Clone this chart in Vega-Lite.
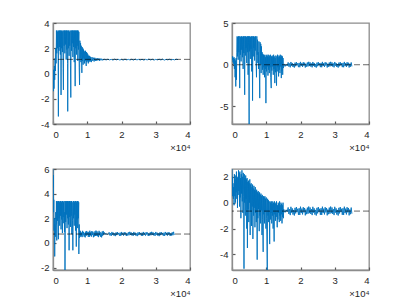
{
"$schema": "https://vega.github.io/schema/vega-lite/v6.json",
"autosize": {"type": "none"},
"padding": {"left": 53, "top": 23, "right": 356, "bottom": 284},
"background": "white",
"bounds": "flush",
"columns": 2,
"spacing": {"row": 45, "column": 42},
"config": {
  "view": {"stroke": "#8c8c8c", "strokeWidth": 1.3},
  "axis": {"zindex": 1, "grid": false, "domain": true, "domainColor": "#8c8c8c", "domainWidth": 1.3, "ticks": true, "tickSize": -3, "tickColor": "#595959", "tickWidth": 1.2, "labelFont": "Liberation Sans", "labelFontSize": 9.5, "labelColor": "#262626", "labelPadding": 7, "titleFont": "Liberation Sans", "titleFontSize": 9.5, "titleFontWeight": "normal", "titleColor": "#262626"},
  "axisX": {"labelPadding": 8, "titlePadding": 4},
  "line": {"color": "#0072BD", "strokeWidth": 0.9},
  "rule": {"color": "#000000", "strokeWidth": 0.6, "strokeDash": [6, 3]}
},
"datasets": {
"a": [
{"x":0,"y":-0.2},{"x":100,"y":-1.4},{"x":200,"y":0.3},{"x":300,"y":-1.2},{"x":400,"y":0.6},{"x":500,"y":-0.5},{"x":600,"y":1.2},{"x":700,"y":0.2},{"x":800,"y":2.0},{"x":900,"y":0.8},{"x":1000,"y":3.4},{"x":1100,"y":1.6},{"x":1200,"y":3.4},{"x":1300,"y":2.0},{"x":1400,"y":3.3},{"x":1500,"y":1.2},{"x":1570,"y":-3.4},{"x":1650,"y":3.4},{"x":1750,"y":1.8},{"x":1850,"y":3.4},{"x":1950,"y":2.1},{"x":2050,"y":3.4},{"x":2150,"y":1.5},{"x":2250,"y":3.4},{"x":2350,"y":-1.7},{"x":2450,"y":3.4},{"x":2550,"y":2.0},{"x":2650,"y":3.3},{"x":2750,"y":1.7},{"x":2850,"y":3.4},{"x":2950,"y":0.4},{"x":3040,"y":-1.3},{"x":3140,"y":3.4},{"x":3250,"y":2.2},{"x":3350,"y":3.4},{"x":3450,"y":1.6},{"x":3550,"y":3.4},{"x":3650,"y":2.3},{"x":3750,"y":3.4},{"x":3850,"y":1.1},{"x":3950,"y":3.4},{"x":4050,"y":1.9},{"x":4150,"y":3.4},{"x":4250,"y":0.8},{"x":4300,"y":-3.0},{"x":4400,"y":3.4},{"x":4500,"y":2.0},{"x":4600,"y":3.4},{"x":4700,"y":1.4},{"x":4800,"y":3.3},{"x":4900,"y":2.2},{"x":5000,"y":3.4},{"x":5100,"y":0.6},{"x":5200,"y":-1.9},{"x":5300,"y":3.4},{"x":5400,"y":1.8},{"x":5500,"y":3.4},{"x":5600,"y":2.4},{"x":5700,"y":3.4},{"x":5800,"y":1.3},{"x":5900,"y":3.4},{"x":6000,"y":2.1},{"x":6100,"y":3.4},{"x":6200,"y":0.9},{"x":6300,"y":3.4},{"x":6400,"y":1.7},{"x":6470,"y":-1.0},{"x":6550,"y":3.4},{"x":6650,"y":2.0},{"x":6750,"y":3.4},{"x":6850,"y":1.5},{"x":6950,"y":3.4},{"x":7050,"y":2.2},{"x":7150,"y":3.4},{"x":7250,"y":1.0},{"x":7350,"y":3.4},{"x":7450,"y":1.9},{"x":7550,"y":3.3},{"x":7650,"y":0.5},{"x":7750,"y":-0.9},{"x":7850,"y":2.6},{"x":7950,"y":1.2},{"x":8050,"y":2.4},{"x":8150,"y":0.9},{"x":8250,"y":2.2},{"x":8350,"y":1.3},{"x":8430,"y":0.05},{"x":8500,"y":2.1},{"x":8600,"y":1.0},{"x":8700,"y":2.0},{"x":8800,"y":0.7},{"x":8900,"y":1.9},{"x":9000,"y":1.2},{"x":9100,"y":1.8},{"x":9200,"y":0.8},{"x":9300,"y":1.7},{"x":9400,"y":1.0},{"x":9500,"y":1.8},{"x":9600,"y":0.9},{"x":9700,"y":0.6},{"x":9800,"y":1.7},{"x":9900,"y":0.9},{"x":10000,"y":1.6},{"x":10100,"y":1.0},{"x":10200,"y":1.5},{"x":10300,"y":0.8},{"x":10400,"y":1.4},{"x":10500,"y":0.9},{"x":10600,"y":1.4},{"x":10700,"y":1.0},{"x":10800,"y":1.35},{"x":10900,"y":0.95},{"x":11000,"y":1.3},{"x":11200,"y":0.9},{"x":11400,"y":1.3},{"x":11600,"y":1.0},{"x":11800,"y":1.25},{"x":12000,"y":0.95},{"x":12200,"y":1.25},{"x":12400,"y":1.0},{"x":12600,"y":1.2},{"x":12800,"y":1.0},{"x":13000,"y":1.2},{"x":13200,"y":1.05},{"x":13400,"y":1.2},{"x":13600,"y":1.0},{"x":13800,"y":1.18},{"x":14000,"y":1.05},{"x":14200,"y":1.17},{"x":14400,"y":1.04},{"x":14600,"y":1.15},{"x":14800,"y":1.06},{"x":15000,"y":1.14},
{"x":15500,"y":1.07},{"x":16000,"y":1.13},{"x":16500,"y":1.08},{"x":17000,"y":1.12},{"x":17500,"y":1.06},{"x":18000,"y":1.14},{"x":18500,"y":1.08},{"x":19000,"y":1.13},{"x":19500,"y":1.07},{"x":20000,"y":1.12},{"x":20500,"y":1.06},{"x":21000,"y":1.14},{"x":21500,"y":1.08},{"x":22000,"y":1.12},{"x":22500,"y":1.07},{"x":23000,"y":1.13},{"x":23500,"y":1.06},{"x":24000,"y":1.14},{"x":24500,"y":1.08},{"x":25000,"y":1.12},{"x":25500,"y":1.07},{"x":26000,"y":1.13},{"x":26500,"y":1.06},{"x":27000,"y":1.12},{"x":27500,"y":1.08},{"x":28000,"y":1.14},{"x":28500,"y":1.07},{"x":29000,"y":1.13},{"x":29500,"y":1.06},{"x":30000,"y":1.12},{"x":30500,"y":1.08},{"x":31000,"y":1.13},{"x":31500,"y":1.07},{"x":32000,"y":1.14},{"x":32500,"y":1.06},{"x":33000,"y":1.12},{"x":33500,"y":1.08},{"x":34000,"y":1.13},{"x":34500,"y":1.07},{"x":35000,"y":1.12},{"x":35500,"y":1.08},{"x":36000,"y":1.13},{"x":36500,"y":1.1}
],
"b": [
{"x":0,"y":1.0},{"x":100,"y":0.6},{"x":200,"y":1.0},{"x":300,"y":0.3},{"x":400,"y":0.8},{"x":500,"y":0.1},{"x":600,"y":0.9},{"x":700,"y":-0.5},{"x":800,"y":0.7},{"x":900,"y":-1.5},{"x":1000,"y":0.5},{"x":1100,"y":-2.6},{"x":1200,"y":0.8},{"x":1300,"y":-1.8},{"x":1400,"y":1.5},{"x":1500,"y":3.4},{"x":1600,"y":1.0},{"x":1700,"y":3.3},{"x":1800,"y":0.6},{"x":1900,"y":3.4},{"x":2000,"y":1.5},{"x":2100,"y":3.4},{"x":2250,"y":-2.8},{"x":2350,"y":3.4},{"x":2450,"y":1.2},{"x":2550,"y":3.3},{"x":2650,"y":0.4},{"x":2750,"y":3.4},{"x":2850,"y":1.8},{"x":2950,"y":3.4},{"x":3050,"y":0.9},{"x":3150,"y":3.3},{"x":3250,"y":-0.5},{"x":3350,"y":3.4},{"x":3450,"y":1.4},{"x":3550,"y":3.4},{"x":3700,"y":-3.6},{"x":3800,"y":3.4},{"x":3900,"y":1.1},{"x":4000,"y":3.4},{"x":4100,"y":2.0},{"x":4200,"y":3.3},{"x":4300,"y":0.2},{"x":4400,"y":3.4},{"x":4500,"y":1.5},{"x":4600,"y":3.4},{"x":4700,"y":-1.2},{"x":4800,"y":3.4},{"x":4900,"y":0.8},{"x":5000,"y":-7.1},{"x":5050,"y":3.4},{"x":5150,"y":1.6},{"x":5250,"y":3.4},{"x":5350,"y":0.7},{"x":5450,"y":3.3},{"x":5550,"y":1.9},{"x":5650,"y":3.4},{"x":5750,"y":-0.8},{"x":5850,"y":3.4},{"x":5950,"y":1.3},{"x":6000,"y":-4.3},{"x":6100,"y":3.4},{"x":6200,"y":1.0},{"x":6300,"y":3.4},{"x":6400,"y":2.0},{"x":6500,"y":3.3},{"x":6600,"y":0.5},{"x":6700,"y":3.4},{"x":6800,"y":1.7},{"x":6900,"y":3.4},{"x":7000,"y":0.9},{"x":7150,"y":-1.5},{"x":7250,"y":3.4},{"x":7350,"y":1.2},{"x":7450,"y":3.0},{"x":7550,"y":0.2},{"x":7650,"y":1.5},{"x":7750,"y":-0.5},{"x":7850,"y":2.8},{"x":7950,"y":0.3},{"x":8100,"y":-4.0},{"x":8200,"y":2.7},{"x":8300,"y":0.1},{"x":8400,"y":2.5},{"x":8500,"y":-1.0},{"x":8600,"y":2.2},{"x":8700,"y":0.0},{"x":8800,"y":1.5},{"x":8900,"y":-0.6},{"x":9000,"y":1.3},{"x":9100,"y":-1.2},{"x":9200,"y":1.2},{"x":9300,"y":-0.3},{"x":9400,"y":1.1},{"x":9500,"y":-1.5},{"x":9600,"y":1.2},{"x":9700,"y":-0.5},{"x":9800,"y":0.9},{"x":9900,"y":-4.6},{"x":10000,"y":1.1},{"x":10100,"y":-0.8},{"x":10200,"y":1.2},{"x":10300,"y":-0.2},{"x":10400,"y":1.0},{"x":10500,"y":-1.3},{"x":10600,"y":1.2},{"x":10700,"y":-0.6},{"x":10800,"y":0.9},{"x":10900,"y":-1.0},{"x":11000,"y":1.1},{"x":11100,"y":-0.3},{"x":11200,"y":1.2},{"x":11300,"y":-1.5},{"x":11450,"y":-2.8},{"x":11550,"y":1.0},{"x":11650,"y":-0.7},{"x":11750,"y":1.1},{"x":11850,"y":-0.2},{"x":11950,"y":0.9},{"x":12050,"y":-1.2},{"x":12150,"y":1.2},{"x":12250,"y":-0.5},{"x":12350,"y":1.0},{"x":12500,"y":-2.2},{"x":12600,"y":0.8},{"x":12700,"y":-0.9},{"x":12800,"y":1.1},{"x":12900,"y":-0.4},{"x":13000,"y":-2.5},{"x":13100,"y":1.0},{"x":13200,"y":-0.8},{"x":13300,"y":1.2},{"x":13400,"y":-0.3},{"x":13500,"y":0.9},{"x":13600,"y":-1.4},{"x":13700,"y":1.1},{"x":13800,"y":-0.6},{"x":13900,"y":1.0},{"x":14000,"y":-1.0},{"x":14100,"y":1.2},{"x":14200,"y":-0.2},{"x":14300,"y":0.9},{"x":14400,"y":-1.6},{"x":14500,"y":1.1},{"x":14600,"y":-0.7},{"x":14700,"y":1.0},{"x":14800,"y":-1.2},{"x":14900,"y":0.8},{"x":15000,"y":-0.4},
{"x":15200,"y":0.1},{"x":15500,"y":-0.2},{"x":15800,"y":0.05},{"x":16100,"y":-0.15},
{"x":16400,"y":0.28},{"x":16600,"y":-0.22},{"x":16800,"y":0.15},{"x":17000,"y":-0.31},{"x":17200,"y":0.33},{"x":17400,"y":-0.12},{"x":17600,"y":0.21},{"x":17800,"y":-0.27},{"x":18000,"y":0.09},{"x":18200,"y":-0.34},{"x":18400,"y":0.25},{"x":18600,"y":-0.18},{"x":18800,"y":0.31},{"x":19000,"y":-0.08},{"x":19200,"y":0.18},{"x":19400,"y":-0.29},
{"x":19600,"y":0.22},{"x":19800,"y":-0.3},{"x":20000,"y":0.34},{"x":20200,"y":-0.15},{"x":20400,"y":0.19},{"x":20600,"y":-0.26},{"x":20800,"y":0.3},{"x":21000,"y":-0.1},{"x":21200,"y":0.24},{"x":21400,"y":-0.33},{"x":21600,"y":0.12},{"x":21800,"y":-0.24},{"x":22000,"y":0.27},{"x":22200,"y":-0.2},{"x":22400,"y":0.35},{"x":22600,"y":-0.16},
{"x":22800,"y":0.28},{"x":23000,"y":-0.22},{"x":23200,"y":0.15},{"x":23400,"y":-0.31},{"x":23600,"y":0.33},{"x":23800,"y":-0.12},{"x":24000,"y":0.21},{"x":24200,"y":-0.27},{"x":24400,"y":0.09},{"x":24600,"y":-0.34},{"x":24800,"y":0.25},{"x":25000,"y":-0.18},{"x":25200,"y":0.31},{"x":25400,"y":-0.08},{"x":25600,"y":0.18},{"x":25800,"y":-0.29},
{"x":26000,"y":0.22},{"x":26200,"y":-0.3},{"x":26400,"y":0.34},{"x":26600,"y":-0.15},{"x":26800,"y":0.19},{"x":27000,"y":-0.26},{"x":27200,"y":0.3},{"x":27400,"y":-0.1},{"x":27600,"y":0.24},{"x":27800,"y":-0.33},{"x":28000,"y":0.12},{"x":28200,"y":-0.24},{"x":28400,"y":0.27},{"x":28600,"y":-0.2},{"x":28800,"y":0.35},{"x":29000,"y":-0.16},
{"x":29200,"y":0.28},{"x":29400,"y":-0.22},{"x":29600,"y":0.15},{"x":29800,"y":-0.31},{"x":30000,"y":0.33},{"x":30200,"y":-0.12},{"x":30400,"y":0.21},{"x":30600,"y":-0.27},{"x":30800,"y":0.09},{"x":31000,"y":-0.34},{"x":31200,"y":0.25},{"x":31400,"y":-0.18},{"x":31600,"y":0.31},{"x":31800,"y":-0.08},{"x":32000,"y":0.18},{"x":32200,"y":-0.29},
{"x":32400,"y":0.22},{"x":32600,"y":-0.3},{"x":32800,"y":0.34},{"x":33000,"y":-0.15},{"x":33200,"y":0.19},{"x":33400,"y":-0.26},{"x":33600,"y":0.3},{"x":33800,"y":-0.1},{"x":34000,"y":0.24},{"x":34200,"y":-0.33},{"x":34400,"y":0.12},{"x":34600,"y":-0.24},{"x":34800,"y":0.27},{"x":35000,"y":-0.2}
],
"c": [
{"x":0,"y":6.0},{"x":60,"y":4.5},{"x":120,"y":5.5},{"x":180,"y":2.5},{"x":240,"y":3.5},{"x":300,"y":1.0},{"x":400,"y":2.0},{"x":500,"y":-1.1},{"x":600,"y":1.5},{"x":700,"y":0.5},{"x":800,"y":2.5},{"x":900,"y":1.5},{"x":1000,"y":3.4},{"x":1100,"y":0.2},{"x":1200,"y":3.3},{"x":1300,"y":1.8},{"x":1400,"y":3.4},{"x":1500,"y":1.5},{"x":1570,"y":0.3},{"x":1650,"y":3.4},{"x":1750,"y":2.0},{"x":1850,"y":3.3},{"x":1950,"y":1.4},{"x":2050,"y":3.4},{"x":2150,"y":2.2},{"x":2250,"y":3.4},{"x":2350,"y":1.1},{"x":2450,"y":3.3},{"x":2550,"y":1.9},{"x":2650,"y":3.4},{"x":2750,"y":0.8},{"x":2850,"y":3.4},{"x":2950,"y":2.1},{"x":3050,"y":3.3},{"x":3150,"y":1.6},{"x":3250,"y":3.4},{"x":3350,"y":0.9},{"x":3450,"y":2.5},{"x":3500,"y":-2.2},{"x":3600,"y":3.4},{"x":3700,"y":1.7},{"x":3800,"y":3.3},{"x":3900,"y":2.3},{"x":4000,"y":3.4},{"x":4100,"y":1.2},{"x":4200,"y":3.4},{"x":4300,"y":2.0},{"x":4400,"y":3.3},{"x":4500,"y":1.5},{"x":4600,"y":3.4},{"x":4700,"y":-0.6},{"x":4800,"y":3.4},{"x":4900,"y":2.1},{"x":5000,"y":3.3},{"x":5100,"y":1.3},{"x":5200,"y":3.4},{"x":5300,"y":2.2},{"x":5400,"y":3.4},{"x":5500,"y":0.7},{"x":5600,"y":3.3},{"x":5700,"y":1.8},{"x":5800,"y":-0.6},{"x":5900,"y":3.4},{"x":6000,"y":2.0},{"x":6100,"y":3.4},{"x":6200,"y":1.4},{"x":6300,"y":3.3},{"x":6400,"y":2.3},{"x":6500,"y":3.4},{"x":6600,"y":1.0},{"x":6700,"y":3.4},{"x":6800,"y":-0.3},{"x":6900,"y":3.3},{"x":7000,"y":1.9},{"x":7100,"y":3.4},{"x":7200,"y":1.2},{"x":7300,"y":3.4},{"x":7400,"y":2.0},{"x":7500,"y":3.3},{"x":7550,"y":-0.9},{"x":7650,"y":1.5},{"x":7750,"y":0.4},{"x":7850,"y":1.0},{"x":7950,"y":0.5},
{"x":8050,"y":0.94},{"x":8200,"y":0.54},{"x":8350,"y":0.84},{"x":8500,"y":0.47},{"x":8650,"y":0.98},{"x":8800,"y":0.62},{"x":8950,"y":0.89},{"x":9100,"y":0.5},{"x":9250,"y":0.79},{"x":9400,"y":0.45},{"x":9550,"y":0.92},{"x":9700,"y":0.58},{"x":9850,"y":0.97},{"x":10000,"y":0.66},{"x":10150,"y":0.86},{"x":10300,"y":0.49},
{"x":10450,"y":0.9},{"x":10600,"y":0.48},{"x":10750,"y":0.99},{"x":10900,"y":0.6},{"x":11050,"y":0.87},{"x":11200,"y":0.51},{"x":11350,"y":0.96},{"x":11500,"y":0.64},{"x":11650,"y":0.91},{"x":11800,"y":0.46},{"x":11950,"y":0.82},{"x":12100,"y":0.53},{"x":12250,"y":0.94},{"x":12400,"y":0.56},{"x":12550,"y":1.0},{"x":12700,"y":0.59},
{"x":12850,"y":0.94},{"x":13000,"y":0.54},{"x":13150,"y":0.84},{"x":13300,"y":0.47},{"x":13450,"y":0.98},{"x":13600,"y":0.62},{"x":13750,"y":0.89},{"x":13900,"y":0.5},{"x":14050,"y":0.79},{"x":14200,"y":0.45},{"x":14350,"y":0.92},{"x":14500,"y":0.58},{"x":14650,"y":0.97},{"x":14800,"y":0.66},{"x":14950,"y":0.86},
{"x":15200,"y":0.7},{"x":15500,"y":0.78},{"x":15800,"y":0.66},{"x":16100,"y":0.75},
{"x":16400,"y":0.86},{"x":16600,"y":0.61},{"x":16800,"y":0.8},{"x":17000,"y":0.57},{"x":17200,"y":0.89},{"x":17400,"y":0.66},{"x":17600,"y":0.83},{"x":17800,"y":0.59},{"x":18000,"y":0.77},{"x":18200,"y":0.55},{"x":18400,"y":0.85},{"x":18600,"y":0.63},{"x":18800,"y":0.88},{"x":19000,"y":0.68},{"x":19200,"y":0.81},{"x":19400,"y":0.58},
{"x":19600,"y":0.83},{"x":19800,"y":0.57},{"x":20000,"y":0.89},{"x":20200,"y":0.65},{"x":20400,"y":0.82},{"x":20600,"y":0.59},{"x":20800,"y":0.87},{"x":21000,"y":0.67},{"x":21200,"y":0.84},{"x":21400,"y":0.56},{"x":21600,"y":0.78},{"x":21800,"y":0.6},{"x":22000,"y":0.86},{"x":22200,"y":0.62},{"x":22400,"y":0.9},{"x":22600,"y":0.64},
{"x":22800,"y":0.86},{"x":23000,"y":0.61},{"x":23200,"y":0.8},{"x":23400,"y":0.57},{"x":23600,"y":0.89},{"x":23800,"y":0.66},{"x":24000,"y":0.83},{"x":24200,"y":0.59},{"x":24400,"y":0.77},{"x":24600,"y":0.55},{"x":24800,"y":0.85},{"x":25000,"y":0.63},{"x":25200,"y":0.88},{"x":25400,"y":0.68},{"x":25600,"y":0.81},{"x":25800,"y":0.58},
{"x":26000,"y":0.83},{"x":26200,"y":0.57},{"x":26400,"y":0.89},{"x":26600,"y":0.65},{"x":26800,"y":0.82},{"x":27000,"y":0.59},{"x":27200,"y":0.87},{"x":27400,"y":0.67},{"x":27600,"y":0.84},{"x":27800,"y":0.56},{"x":28000,"y":0.78},{"x":28200,"y":0.6},{"x":28400,"y":0.86},{"x":28600,"y":0.62},{"x":28800,"y":0.9},{"x":29000,"y":0.64},
{"x":29200,"y":0.86},{"x":29400,"y":0.61},{"x":29600,"y":0.8},{"x":29800,"y":0.57},{"x":30000,"y":0.89},{"x":30200,"y":0.66},{"x":30400,"y":0.83},{"x":30600,"y":0.59},{"x":30800,"y":0.77},{"x":31000,"y":0.55},{"x":31200,"y":0.85},{"x":31400,"y":0.63},{"x":31600,"y":0.88},{"x":31800,"y":0.68},{"x":32000,"y":0.81},{"x":32200,"y":0.58},
{"x":32400,"y":0.83},{"x":32600,"y":0.57},{"x":32800,"y":0.89},{"x":33000,"y":0.65},{"x":33200,"y":0.82},{"x":33400,"y":0.59},{"x":33600,"y":0.87},{"x":33800,"y":0.67},{"x":34000,"y":0.84},{"x":34200,"y":0.56},{"x":34400,"y":0.78},{"x":34600,"y":0.6},{"x":34800,"y":0.86},{"x":35000,"y":0.62},{"x":35200,"y":0.9},{"x":35400,"y":0.64}
],
"d": [
{"x":0,"y":2.6},{"x":60,"y":1.0},{"x":120,"y":2.0},{"x":200,"y":0.5},{"x":300,"y":1.5},{"x":400,"y":0.3},{"x":500,"y":1.2},{"x":600,"y":-0.2},{"x":700,"y":2.2},{"x":800,"y":0.5},{"x":900,"y":1.8},{"x":1000,"y":0.0},{"x":1100,"y":2.1},{"x":1200,"y":0.8},{"x":1300,"y":2.4},{"x":1400,"y":0.3},{"x":1500,"y":1.9},{"x":1600,"y":-0.4},{"x":1700,"y":2.0},{"x":1800,"y":0.6},{"x":1900,"y":2.5},{"x":2000,"y":0.9},{"x":2100,"y":2.3},{"x":2200,"y":-0.3},{"x":2300,"y":2.4},{"x":2400,"y":0.4},{"x":2500,"y":1.9},{"x":2600,"y":-1.2},{"x":2700,"y":2.2},{"x":2800,"y":0.7},{"x":2900,"y":2.5},{"x":3000,"y":0.1},{"x":3100,"y":2.0},{"x":3200,"y":-0.8},{"x":3300,"y":2.3},{"x":3400,"y":0.5},{"x":3500,"y":-5.1},{"x":3600,"y":2.2},{"x":3700,"y":0.0},{"x":3800,"y":1.9},{"x":3900,"y":-1.0},{"x":4000,"y":2.1},{"x":4100,"y":0.3},{"x":4200,"y":1.8},{"x":4300,"y":-2.0},{"x":4400,"y":1.9},{"x":4500,"y":-3.5},{"x":4600,"y":1.6},{"x":4700,"y":-0.5},{"x":4800,"y":1.7},{"x":4900,"y":-1.5},{"x":5000,"y":1.5},{"x":5100,"y":0.0},{"x":5200,"y":1.8},{"x":5300,"y":-2.5},{"x":5400,"y":1.4},{"x":5500,"y":-0.7},{"x":5600,"y":1.5},{"x":5700,"y":-1.8},{"x":5800,"y":1.2},{"x":5900,"y":-0.3},{"x":6000,"y":1.4},{"x":6100,"y":-2.8},{"x":6200,"y":1.1},{"x":6300,"y":-1.0},{"x":6400,"y":1.3},{"x":6500,"y":-0.4},{"x":6600,"y":1.0},{"x":6700,"y":-1.9},{"x":6800,"y":1.2},{"x":6900,"y":-0.8},{"x":7000,"y":0.9},{"x":7100,"y":-1.5},{"x":7200,"y":1.0},{"x":7350,"y":-4.4},{"x":7450,"y":0.8},{"x":7550,"y":-1.2},{"x":7650,"y":0.9},{"x":7750,"y":-0.5},{"x":7850,"y":0.7},{"x":7950,"y":-2.2},{"x":8050,"y":0.8},{"x":8150,"y":-1.0},{"x":8250,"y":0.6},{"x":8350,"y":-1.6},{"x":8450,"y":0.7},{"x":8550,"y":-0.6},{"x":8650,"y":0.5},{"x":8750,"y":-2.5},{"x":8850,"y":0.6},{"x":8950,"y":-1.3},{"x":9100,"y":-3.8},{"x":9200,"y":0.5},{"x":9300,"y":-0.9},{"x":9400,"y":0.4},{"x":9500,"y":-1.6},{"x":9600,"y":0.5},{"x":9700,"y":-0.7},{"x":9800,"y":0.3},{"x":9900,"y":-2.0},{"x":10000,"y":0.4},{"x":10100,"y":-1.2},{"x":10300,"y":-5.2},{"x":10400,"y":0.3},{"x":10500,"y":-1.0},{"x":10600,"y":0.2},{"x":10700,"y":-1.5},{"x":10800,"y":0.1},{"x":10900,"y":-0.6},{"x":11000,"y":-3.2},{"x":11100,"y":0.1},{"x":11200,"y":-1.3},{"x":11300,"y":0.0},{"x":11400,"y":-0.8},{"x":11500,"y":0.1},{"x":11600,"y":-1.6},{"x":11700,"y":-0.1},{"x":11800,"y":-1.0},{"x":11900,"y":0.1},{"x":12000,"y":-2.0},{"x":12100,"y":0.0},{"x":12200,"y":-1.2},{"x":12300,"y":-3.0},{"x":12400,"y":0.1},{"x":12500,"y":-0.9},{"x":12600,"y":-0.1},{"x":12700,"y":-1.4},{"x":12800,"y":0.0},{"x":12900,"y":-1.1},{"x":13000,"y":0.1},{"x":13200,"y":-1.9},{"x":13300,"y":-0.2},{"x":13400,"y":-1.3},{"x":13500,"y":0.0},{"x":13600,"y":-0.8},{"x":13700,"y":-0.1},{"x":13800,"y":-1.5},{"x":13900,"y":0.1},{"x":14000,"y":-1.0},{"x":14100,"y":-0.2},{"x":14200,"y":-1.4},{"x":14300,"y":0.0},{"x":14400,"y":-0.9},{"x":14500,"y":-0.1},{"x":14600,"y":-1.6},{"x":14700,"y":-0.2},{"x":14800,"y":-1.1},{"x":14900,"y":0.0},{"x":15000,"y":-1.2},{"x":15100,"y":-0.5},
{"x":15200,"y":-0.6},{"x":15500,"y":-0.75},{"x":15800,"y":-0.55},{"x":16100,"y":-0.7},
{"x":16400,"y":-0.37},{"x":16600,"y":-0.87},{"x":16800,"y":-0.5},{"x":17000,"y":-0.96},{"x":17200,"y":-0.32},{"x":17400,"y":-0.77},{"x":17600,"y":-0.44},{"x":17800,"y":-0.92},{"x":18000,"y":-0.56},{"x":18200,"y":-0.99},{"x":18400,"y":-0.4},{"x":18600,"y":-0.83},{"x":18800,"y":-0.34},{"x":19000,"y":-0.73},{"x":19200,"y":-0.47},{"x":19400,"y":-0.94},
{"x":19600,"y":-0.43},{"x":19800,"y":-0.95},{"x":20000,"y":-0.31},{"x":20200,"y":-0.8},{"x":20400,"y":-0.46},{"x":20600,"y":-0.91},{"x":20800,"y":-0.35},{"x":21000,"y":-0.75},{"x":21200,"y":-0.41},{"x":21400,"y":-0.98},{"x":21600,"y":-0.53},{"x":21800,"y":-0.89},{"x":22000,"y":-0.38},{"x":22200,"y":-0.85},{"x":22400,"y":-0.3},{"x":22600,"y":-0.81},
{"x":22800,"y":-0.37},{"x":23000,"y":-0.87},{"x":23200,"y":-0.5},{"x":23400,"y":-0.96},{"x":23600,"y":-0.32},{"x":23800,"y":-0.77},{"x":24000,"y":-0.44},{"x":24200,"y":-0.92},{"x":24400,"y":-0.56},{"x":24600,"y":-0.99},{"x":24800,"y":-0.4},{"x":25000,"y":-0.83},{"x":25200,"y":-0.34},{"x":25400,"y":-0.73},{"x":25600,"y":-0.47},{"x":25800,"y":-0.94},
{"x":26000,"y":-0.43},{"x":26200,"y":-0.95},{"x":26400,"y":-0.31},{"x":26600,"y":-0.8},{"x":26800,"y":-0.46},{"x":27000,"y":-0.91},{"x":27200,"y":-0.35},{"x":27400,"y":-0.75},{"x":27600,"y":-0.41},{"x":27800,"y":-0.98},{"x":28000,"y":-0.53},{"x":28200,"y":-0.89},{"x":28400,"y":-0.38},{"x":28600,"y":-0.85},{"x":28800,"y":-0.3},{"x":29000,"y":-0.81},
{"x":29200,"y":-0.37},{"x":29400,"y":-0.87},{"x":29600,"y":-0.5},{"x":29800,"y":-0.96},{"x":30000,"y":-0.32},{"x":30200,"y":-0.77},{"x":30400,"y":-0.44},{"x":30600,"y":-0.92},{"x":30800,"y":-0.56},{"x":31000,"y":-0.99},{"x":31200,"y":-0.4},{"x":31400,"y":-0.83},{"x":31600,"y":-0.34},{"x":31800,"y":-0.73},{"x":32000,"y":-0.47},{"x":32200,"y":-0.94},
{"x":32400,"y":-0.43},{"x":32600,"y":-0.95},{"x":32800,"y":-0.31},{"x":33000,"y":-0.8},{"x":33200,"y":-0.46},{"x":33400,"y":-0.91},{"x":33600,"y":-0.35},{"x":33800,"y":-0.75},{"x":34000,"y":-0.41},{"x":34200,"y":-0.98},{"x":34400,"y":-0.53},{"x":34600,"y":-0.89},{"x":34800,"y":-0.38},{"x":35000,"y":-0.85}
]
},
"concat": [
{"width": 137, "height": 101,
 "layer": [
  {"data": {"name": "a"}, "mark": {"type": "line", "clip": true},
   "encoding": {
    "x": {"field": "x", "type": "quantitative", "scale": {"domain": [0, 40000], "nice": false}, "axis": {"domain": true, "values": [0, 10000, 20000, 30000, 40000], "labelExpr": "'' + datum.value / 10000", "title": "×10⁴", "titleAnchor": "end"}},
    "y": {"field": "y", "type": "quantitative", "title": null, "scale": {"domain": [-4, 4], "nice": false, "zero": false}, "axis": {"domain": true, "values": [-4, -2, 0, 2, 4], "labelExpr": "'' + datum.value", "title": null}}}},
  {"data": {"values": [{"m": 1.12}]}, "mark": {"type": "rule"},
   "encoding": {
    "y": {"field": "m", "type": "quantitative", "title": null, "axis": {"domain": true, "values": [-4, -2, 0, 2, 4], "labelExpr": "'' + datum.value", "title": null}}}}
 ]},
{"width": 137, "height": 101,
 "layer": [
  {"data": {"name": "b"}, "mark": {"type": "line", "clip": true},
   "encoding": {
    "x": {"field": "x", "type": "quantitative", "scale": {"domain": [0, 40000], "nice": false}, "axis": {"domain": true, "values": [0, 10000, 20000, 30000, 40000], "labelExpr": "'' + datum.value / 10000", "title": "×10⁴", "titleAnchor": "end"}},
    "y": {"field": "y", "type": "quantitative", "title": null, "scale": {"domain": [-7.1, 5], "nice": false, "zero": false}, "axis": {"domain": true, "values": [-5, 0, 5], "labelExpr": "'' + datum.value", "title": null}}}},
  {"data": {"values": [{"m": 0.0}]}, "mark": {"type": "rule"},
   "encoding": {
    "y": {"field": "m", "type": "quantitative", "title": null, "axis": {"domain": true, "values": [-5, 0, 5], "labelExpr": "'' + datum.value", "title": null}}}}
 ]},
{"width": 137, "height": 101,
 "layer": [
  {"data": {"name": "c"}, "mark": {"type": "line", "clip": true},
   "encoding": {
    "x": {"field": "x", "type": "quantitative", "scale": {"domain": [0, 40000], "nice": false}, "axis": {"domain": true, "values": [0, 10000, 20000, 30000, 40000], "labelExpr": "'' + datum.value / 10000", "title": "×10⁴", "titleAnchor": "end"}},
    "y": {"field": "y", "type": "quantitative", "title": null, "scale": {"domain": [-2.2, 6], "nice": false, "zero": false}, "axis": {"domain": true, "values": [-2, 0, 2, 4, 6], "labelExpr": "'' + datum.value", "title": null}}}},
  {"data": {"values": [{"m": 0.72}]}, "mark": {"type": "rule"},
   "encoding": {
    "y": {"field": "m", "type": "quantitative", "title": null, "axis": {"domain": true, "values": [-2, 0, 2, 4, 6], "labelExpr": "'' + datum.value", "title": null}}}}
 ]},
{"width": 137, "height": 101,
 "layer": [
  {"data": {"name": "d"}, "mark": {"type": "line", "clip": true},
   "encoding": {
    "x": {"field": "x", "type": "quantitative", "scale": {"domain": [0, 40000], "nice": false}, "axis": {"domain": true, "values": [0, 10000, 20000, 30000, 40000], "labelExpr": "'' + datum.value / 10000", "title": "×10⁴", "titleAnchor": "end"}},
    "y": {"field": "y", "type": "quantitative", "title": null, "scale": {"domain": [-5.2, 2.6], "nice": false, "zero": false}, "axis": {"domain": true, "values": [-4, -2, 0, 2], "labelExpr": "'' + datum.value", "title": null}}}},
  {"data": {"values": [{"m": -0.65}]}, "mark": {"type": "rule"},
   "encoding": {
    "y": {"field": "m", "type": "quantitative", "title": null, "axis": {"domain": true, "values": [-4, -2, 0, 2], "labelExpr": "'' + datum.value", "title": null}}}}
 ]}
]
}
